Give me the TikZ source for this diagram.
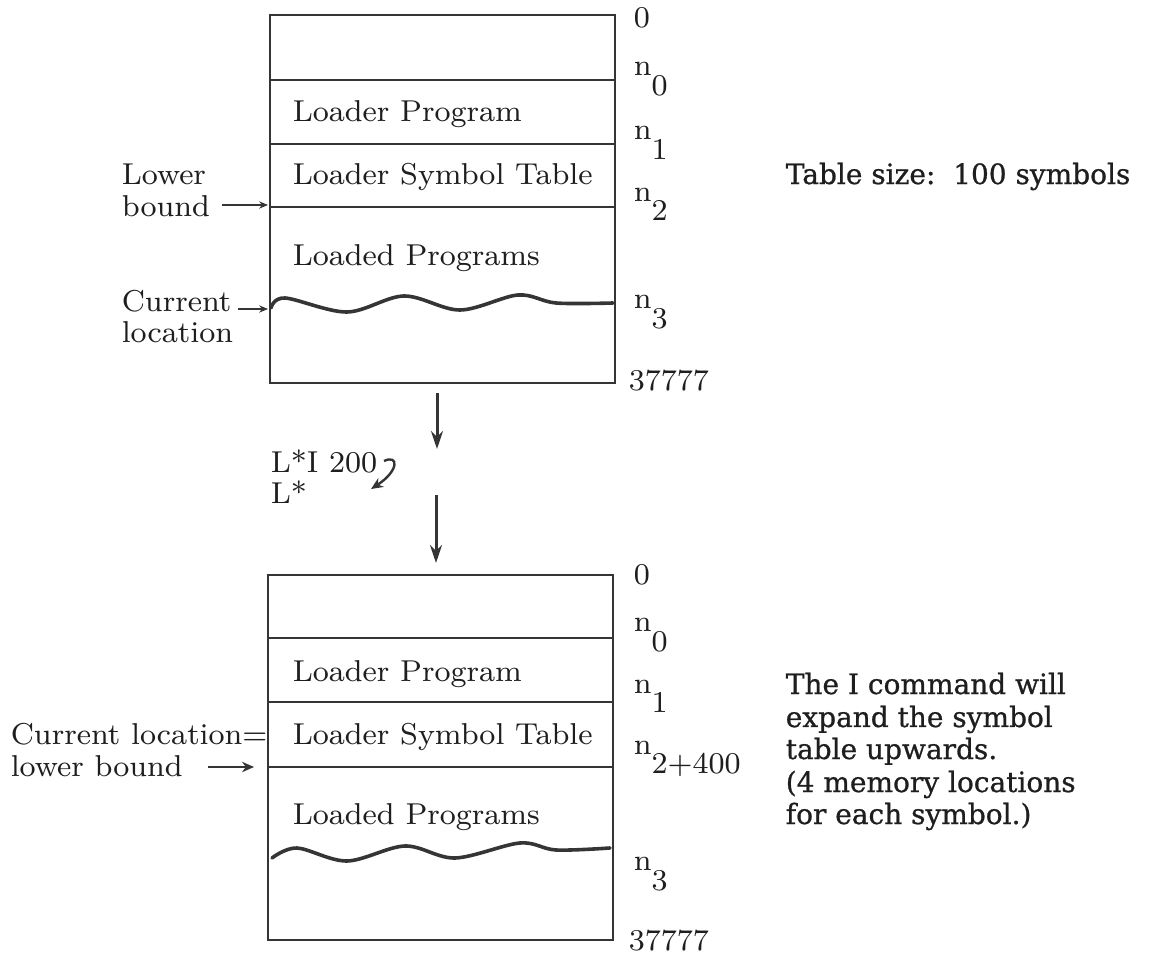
\documentclass[tikz,border=0pt]{standalone}
\usepackage{fontspec}
\newfontfamily\slab[FakeBold=0.8]{DejaVu Serif}
\usetikzlibrary{arrows.meta}
\definecolor{ink}{HTML}{1E1E1E}
\definecolor{linec}{HTML}{353535}
\newcommand\nsb[1]{n\lower5pt\hbox{#1}}
\begin{document}
\begin{tikzpicture}[x=0.25pt,y=-0.25pt,
  box/.style={draw=linec,line width=0.5pt},
  wave/.style={draw=linec,line width=0.9pt,line cap=round},
  txt/.style={inner sep=0pt,anchor=base west,text=ink,font=\fontsize{7.55}{9}\selectfont},
  rtxt/.style={inner sep=0pt,anchor=base west,text=ink,font=\slab\fontsize{7}{8}\selectfont},
  bigarrow/.style={draw=linec,line width=0.75pt,-{Stealth[length=4.5pt,width=3pt]}},
  smallarrow/.style={draw=linec,line width=0.4pt,-{Stealth[length=2.2pt,width=1.8pt]}},
  medarrow/.style={draw=linec,line width=0.7pt,-{Stealth[length=3pt,width=2.6pt]}}
]
\useasboundingbox (0,0) rectangle (1160,953);
% ---------- top box ----------
\draw[box] (270,15) rectangle (615,383);
\draw[box] (270,80) -- (615,80);
\draw[box] (270,144) -- (615,144);
\draw[box] (270,207) -- (615,207);
\draw[wave] plot[smooth,tension=0.55] coordinates {(271,308) (285,298) (347,312) (404,296) (460,310) (518,295) (556,303) (613,303)};
\node[txt] (tlp) at (292,122) {Loader Program};
\node[txt] (tlst) at (292,184) {Loader Symbol Table};
\node[txt] (tldp) at (292,266) {Loaded Programs};
\node[txt] (t0) at (633,27) {0};
\node[txt] (tn0) at (633,76) {\nsb{0}};
\node[txt] (tn1) at (633,139) {\nsb{1}};
\node[txt] (tn2) at (633,201) {\nsb{2}};
\node[txt] (tn3) at (633,309) {\nsb{3}};
\node[txt] (tend) at (628,390) {37777};
\node[txt] (lower) at (121,184) {Lower};
\node[txt] (bound) at (121,216) {bound};
\node[txt] (cur) at (121,311) {Current};
\node[txt] (loc) at (121,342) {location};
\coordinate (lbs) at (222,205);
\coordinate (lbe) at (268,205);
\draw[smallarrow] (lbs) -- (lbe);
\coordinate (cls) at (238,309);
\coordinate (cle) at (268,309);
\draw[smallarrow] (cls) -- (cle);
\node[rtxt] (tsize) at (785,184) {Table size:\ \ 100 symbols};
% ---------- middle ----------
\coordinate (a1s) at (437,393);
\coordinate (a1e) at (437,449);
\draw[bigarrow] (a1s) -- (a1e);
\node[txt] (cmd1) at (270,472) {L*I 200};
\node[txt] (cmd2) at (270,503) {L*};
\coordinate (cus) at (384,461);
\coordinate (cue) at (371,489);
\draw[medarrow,line width=0.6pt] (cus) .. controls (399,454) and (399,471) .. (cue);
\coordinate (a2s) at (436,495);
\coordinate (a2e) at (436,563);
\draw[bigarrow] (a2s) -- (a2e);
% ---------- bottom box ----------
\draw[box] (268,575) rectangle (613,940);
\draw[box] (268,638) -- (613,638);
\draw[box] (268,702) -- (613,702);
\draw[box] (268,767) -- (613,767);
\draw[wave] plot[smooth,tension=0.55] coordinates {(272,858) (297,848) (347,861) (405,846) (455,858) (520,843) (556,850) (610,848)};
\node[txt] (blp) at (292,682) {Loader Program};
\node[txt] (blst) at (292,744) {Loader Symbol Table};
\node[txt] (bldp) at (292,824) {Loaded Programs};
\node[txt] (b0) at (633,585) {0};
\node[txt] (bn0) at (633,631) {\nsb{0}};
\node[txt] (bn1) at (633,693) {\nsb{1}};
\node[txt] (bn2) at (633,754) {\nsb{2+400}};
\node[txt] (bn3) at (633,871) {\nsb{3}};
\node[txt] (bend) at (628,950) {37777};
\node[txt] (bcur) at (10,744) {Current location=};
\node[txt] (blow) at (10,776) {lower bound};
\coordinate (bas) at (208,767);
\coordinate (bae) at (254,767);
\draw[medarrow] (bas) -- (bae);
\node[rtxt] (r1) at (785,694) {The I command will};
\node[rtxt] (r2) at (785,727) {expand the symbol};
\node[rtxt] (r3) at (785,759) {table upwards.};
\node[rtxt] (r4) at (785,792) {(4 memory locations};
\node[rtxt] (r5) at (785,824) {for each symbol.)};
\end{tikzpicture}
\end{document}
